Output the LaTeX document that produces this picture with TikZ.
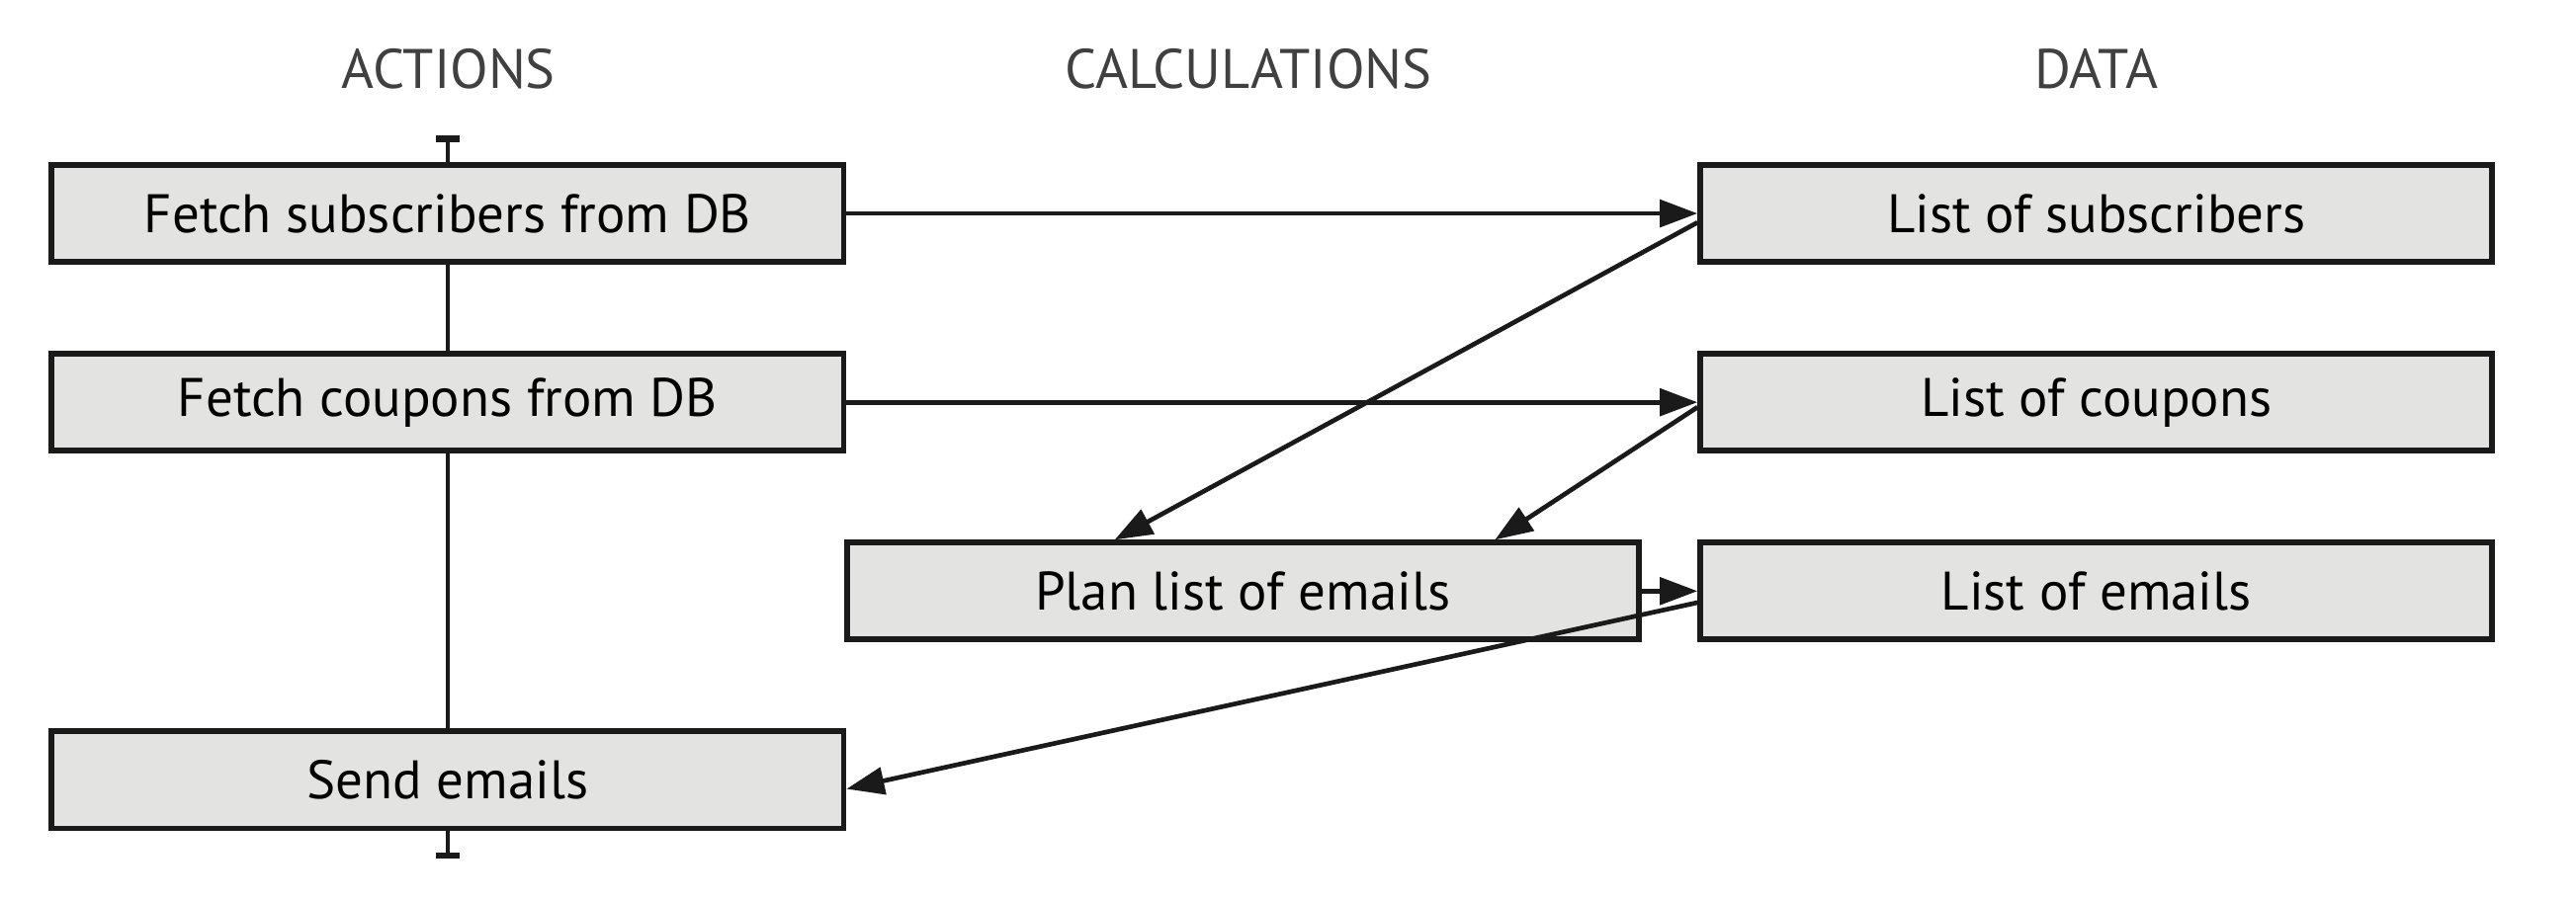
\documentclass[tikz,border=0pt]{standalone}
\usepackage{fontspec}
\setmainfont{PT Sans}
\usetikzlibrary{arrows.meta}
\definecolor{boxfill}{HTML}{E3E3E2}
\definecolor{ink}{HTML}{1A1A1A}
\definecolor{headgray}{HTML}{404040}
\tikzset{
  stepbox/.style={draw=ink, fill=boxfill, line width=2pt, minimum width=9.64cm,
    minimum height=1.18cm, inner sep=0pt, font=\fontsize{18.8}{21}\selectfont},
  header/.style={text=headgray, font=\fontsize{19.3}{21}\selectfont},
  flow/.style={draw=ink, line width=1.6pt, -{Triangle[length=0.46cm, width=0.33cm]}},
  timeline/.style={draw=ink, line width=1.4pt}
}
\begin{document}
\begin{tikzpicture}
                \useasboundingbox (0,0) rectangle (31.36,10.98);
                
                % Column headers
                \node[header] (hactions) at (5.46, 10.14) {ACTIONS};
                \node[header] (hcalc) at (15.2, 10.14) {CALCULATIONS};
                \node[header] (hdata) at (25.52, 10.14) {DATA};
                
                % Action boxes
                \node[stepbox] (fetchsub) at (5.45, 8.38) {Fetch subscribers from DB};
                \node[stepbox] (fetchcoup) at (5.45, 6.08) {Fetch coupons from DB};
                \node[stepbox] (send) at (5.45, 1.48) {Send emails};
                
                % Calculation box
                \node[stepbox] (plan) at (15.13, 3.78) {Plan list of emails};
                
                % Data boxes
                \node[stepbox] (listsub) at (25.52, 8.38) {List of subscribers};
                \node[stepbox] (listcoup) at (25.52, 6.08) {List of coupons};
                \node[stepbox] (listemails) at (25.52, 3.78) {List of emails};
                
                % Timeline of actions
                \coordinate (tltop) at (5.45, 9.33);
                \coordinate (tlbot) at (5.45, 0.52);
                \draw[timeline, {Bar[width=0.29cm, line width=2.2pt]}-] (tltop) -- (fetchsub.north);
                \draw[timeline] (fetchsub.south) -- (fetchcoup.north);
                \draw[timeline] (fetchcoup.south) -- (send.north);
                \draw[timeline, -{Bar[width=0.29cm, line width=2.2pt]}] (send.south) -- (tlbot);
                
                % Data flow
                \draw[flow] (fetchsub.east) -- (listsub.west);
                \draw[flow] (fetchcoup.east) -- (listcoup.west);
                \draw[flow] ([yshift=-0.11cm]listsub.west) -- ([xshift=-1.56cm]plan.north);
                \draw[flow] ([yshift=-0.06cm]listcoup.west) -- ([xshift=3.07cm]plan.north);
                \draw[flow] (plan.east) -- (listemails.west);
                \draw[flow] ([yshift=-0.14cm]listemails.west) -- ([yshift=-0.11cm]send.east);
            \end{tikzpicture}
\end{document}
